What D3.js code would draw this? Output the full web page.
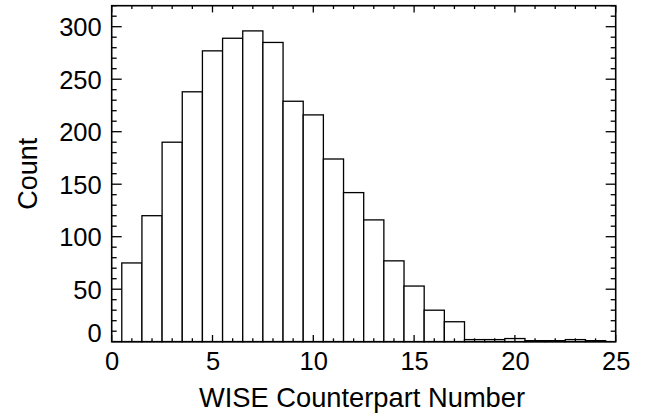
<!DOCTYPE html>
<html><head><meta charset="utf-8">
<script src="https://cdn.jsdelivr.net/npm/d3@7"></script>
<style>body{margin:0;background:#fff;} text{font-family:"Liberation Sans",Arial,Helvetica,sans-serif;fill:#000;}</style>
</head><body>
<svg id="c" width="655" height="416"></svg>
<script>
const binCenters = [1,2,3,4,5,6,7,8,9,10,11,12,13,14,15,16,17,18,19,20,21,22,23,24];
const counts     = [75,120,190,238,277,289,296,285,229,216,174,142,116,77,53,30,19,2,2,3,1,1,2,1];
const xTickValues = [0,5,10,15,20,25];
const yTickValues = [0,50,100,150,200,250,300];
const xTitle = "WISE Counterpart Number";
const yTitle = "Count";

const svg = d3.select("#c");
const L = 111.7, R = 615.7, T = 5.7, B = 341.7;
const x = d3.scaleLinear().domain([0,25]).range([L,R]);
const y = d3.scaleLinear().domain([0,320]).range([B,T]);
const fs = 25.5;

// bars
svg.append("g").selectAll("rect").data(binCenters).join("rect")
  .attr("x", d => x(d-0.5)).attr("width", d => x(d+0.5)-x(d-0.5))
  .attr("y", (d,i) => y(counts[i])).attr("height", (d,i) => y(0)-y(counts[i]))
  .attr("fill","#fff").attr("stroke","#000").attr("stroke-width",1.3);

// frame
svg.append("rect").attr("x",L).attr("y",T).attr("width",R-L).attr("height",B-T)
  .attr("fill","none").attr("stroke","#000").attr("stroke-width",1.6);

const xMinor = d3.range(0,26,1), yMinor = d3.range(0,321,10);
const xMaj = 6.7, yMaj = 10;
const tg = svg.append("g").attr("stroke","#000").attr("stroke-width",1.3);
xMinor.forEach(v => {
  const len = (v%5===0) ? xMaj : xMaj/2;
  tg.append("line").attr("x1",x(v)).attr("x2",x(v)).attr("y1",B).attr("y2",B-len);
  tg.append("line").attr("x1",x(v)).attr("x2",x(v)).attr("y1",T).attr("y2",T+len);
});
yMinor.forEach(v => {
  const len = (v%50===0) ? yMaj : yMaj/2;
  tg.append("line").attr("y1",y(v)).attr("y2",y(v)).attr("x1",L).attr("x2",L+len);
  tg.append("line").attr("y1",y(v)).attr("y2",y(v)).attr("x1",R).attr("x2",R-len);
});

const xa = svg.append("g").attr("transform",`translate(0,${B})`)
  .call(d3.axisBottom(x).tickValues(xTickValues).tickSize(0).tickPadding(28));
xa.select(".domain").remove();
xa.selectAll("text").attr("font-size",fs).attr("font-family","Liberation Sans, Arial, sans-serif").attr("dy","0");
const ya = svg.append("g").attr("transform",`translate(${L},0)`)
  .call(d3.axisLeft(y).tickValues(yTickValues).tickSize(0).tickPadding(10));
ya.select(".domain").remove();
ya.selectAll("text").attr("font-size",fs).attr("font-family","Liberation Sans, Arial, sans-serif")
  .attr("dy", d => d===0 ? "0.0em" : "0.36em");

svg.append("text").attr("x",362).attr("y",407).attr("text-anchor","middle")
  .attr("font-size",27.3).text(xTitle);
svg.append("text").attr("transform",`translate(36.5,${(T+B)/2}) rotate(-90)`)
  .attr("text-anchor","middle").attr("font-size",27).text(yTitle);
</script>
</body></html>
